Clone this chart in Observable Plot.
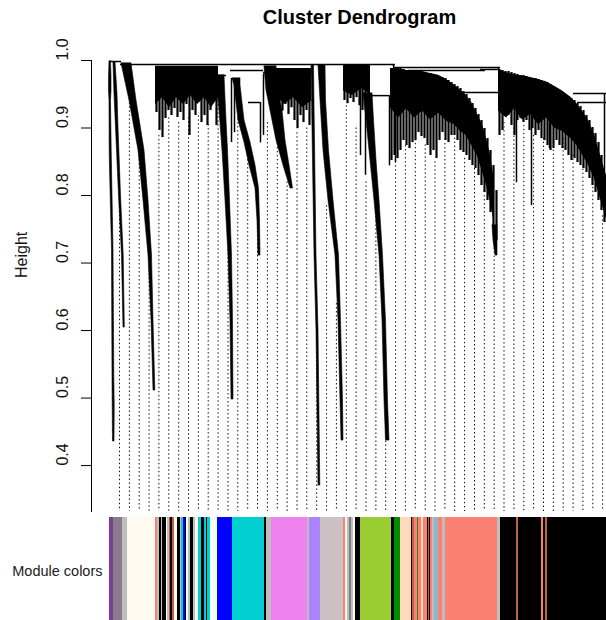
<!DOCTYPE html>
<html><head><meta charset="utf-8">
<script src="https://cdn.jsdelivr.net/npm/d3@7"></script>
<script src="https://cdn.jsdelivr.net/npm/@observablehq/plot@0.6"></script>
<style>
body{margin:0;background:#fff;}
#wrap{position:relative;width:606px;height:620px;overflow:hidden;background:#fff;}
#wrap svg{position:absolute;left:0;}
</style></head><body><div id="wrap"></div>
<script>
// ---------- axis ----------
const yTicks = [0.4, 0.5, 0.6, 0.7, 0.8, 0.9, 1.0];
const heightFloor = 0.332;          // lower limit of the Height axis
const leafSpan = [0, 498];          // leaf order (1 unit ~ a few genes)
const combStep = 3;

// ---------- dendrogram: merges [height, fromLeaf, toLeaf] ----------
const merges = [
  [0.9985, 1, 13], [0.9941, 12, 287], [0.9896, 285, 392], [0.9911, 47, 110],
  [0.9852, 122, 155], [0.9822, 155, 199], [0.9778, 107, 118], [0.9644, 172, 185],
  [0.9378, 140, 152], [0.948, 260, 281], [0.9852, 300, 377], [0.9526, 339, 390],
  [0.9867, 372, 390], [0.951, 465, 498], [0.9378, 469, 498]
];
// vertical connections [leaf, top, bottom]
const links = [
  [285, 0.9941, 0.9896], [390, 0.9896, 0.9867], [496, 0.951, 0.83],
  [281, 0.948, 0.844], [152, 0.9378, 0.878]
];
// isolated deep branches [leaf, top, bottom]
const spikes = [
  [123, 0.9733, 0.8785], [126, 0.97, 0.893], [155, 0.98, 0.889], [252, 0.99, 0.8593],
  [257, 0.99, 0.83], [287, 0.988, 0.849], [408, 0.9748, 0.819], [423, 0.9733, 0.785],
  [441, 0.965, 0.8696]
];

// ---------- cascading branches [height, leftLeaf, rightLeaf] ----------
const branchL1 = [[0.9985, 1, 2.5], [0.975, 0.5, 3], [0.955, 0.5, 3], [0.94, 1, 2.5], [0.865, 1.2, 3.2],
  [0.84, 1.5, 3.5], [0.72, 3.5, 5], [0.53, 4, 5.8], [0.49, 4.2, 6.2], [0.4356, 4.5, 6]];
const branchL2 = [[0.997, 5, 7], [0.95, 6, 9], [0.9, 7.5, 10], [0.8, 10.5, 12.5], [0.7111, 13.5, 15.2], [0.6044, 15, 16.3]];
const branchC1 = [[0.9956, 13, 23], [0.9407, 21, 28], [0.8667, 30, 36], [0.7926, 35, 40], [0.7111, 40, 43.5], [0.6148, 43, 45], [0.5111, 45, 46.8]];
const branchC3 = [[0.9778, 108, 116], [0.926, 111, 117.5], [0.8667, 114, 119.5], [0.7926, 117, 121.5], [0.7111, 120, 123.5], [0.6148, 122, 124.5], [0.4978, 123, 125]];
const branchC4 = [[0.9733, 124, 132], [0.963, 126, 132], [0.9111, 130, 136], [0.8785, 136, 142], [0.8444, 141, 147], [0.8104, 147, 150.5], [0.763, 149, 151.5], [0.7111, 150, 152]];
const branchC5 = [[0.9911, 156, 168], [0.9556, 158, 170], [0.9259, 162, 174], [0.8815, 168, 177], [0.8444, 175, 181], [0.8104, 182, 184.5]];
const branchL3 = [[0.9926, 203, 205.5], [0.7111, 206, 208], [0.60, 208, 210], [0.3704, 210, 211.8]];
const branchC6 = [[0.9926, 210, 217], [0.9407, 212, 217.5], [0.8667, 215, 220.5], [0.7926, 220, 225], [0.7111, 227, 230.5], [0.6148, 230, 232.5], [0.4963, 232, 234.5], [0.437, 233, 235]];
const branchC7a = [[0.951, 255, 264], [0.9111, 258, 265.5], [0.8519, 262, 268], [0.7926, 266, 271], [0.7111, 271, 274.5], [0.6148, 274, 277.5], [0.4963, 276, 279.5], [0.437, 277.5, 281]];
const branchC7tail = [[0.7556, 384, 389], [0.7333, 385, 389], [0.7111, 387, 389]];

// ---------- dense clusters: leaf heights every 3 leaf units ----------
const comb2Start = 47, comb2Top = 0.9911;
const comb2Bottom = [0.923, 0.8963, 0.8859, 0.9141, 0.9259, 0.9185, 0.9289, 0.9156, 0.923, 0.9111, 0.9348,
  0.8889, 0.9259, 0.9185, 0.9378, 0.9081, 0.9185, 0.9037, 0.9259, 0.9437, 0.9037];
const comb5Start = 167, comb5Top = 0.9881;
const comb5Bottom = [0.93, 0.94, 0.925, 0.935, 0.92, 0.93, 0.9111, 0.899, 0.9185, 0.9081, 0.9259, 0.9037];
const comb6Start = 235, comb6Top = 0.9926;
const comb6Bottom = [0.9407, 0.936, 0.9437, 0.9378, 0.945, 0.933, 0.9259, 0.9407, 0.9437];
const comb7Start = 282;
const comb7Top = [0.9881, 0.9881, 0.9881, 0.9881, 0.9867, 0.9852, 0.9852, 0.9837, 0.9837, 0.9822, 0.9822, 0.9822,
  0.9807, 0.9807, 0.9793, 0.9778, 0.9763, 0.9748, 0.9733, 0.9704, 0.9674, 0.9644, 0.9615, 0.9585, 0.954, 0.9496,
  0.9437, 0.9363, 0.9289, 0.92, 0.9111, 0.8993, 0.8844, 0.8667, 0.8444, 0.8074];
const comb7Bottom = [0.8519, 0.8593, 0.8548, 0.8667, 0.8815, 0.8741, 0.8696, 0.8785, 0.8815, 0.8933, 0.8874, 0.8844,
  0.8741, 0.8593, 0.8667, 0.8548, 0.8815, 0.8933, 0.8815, 0.8785, 0.8889, 0.8889, 0.8815, 0.8667, 0.8637, 0.8593,
  0.8519, 0.8444, 0.84, 0.8296, 0.8148, 0.8044, 0.7926, 0.7748, 0.7556, 0.7333];
const comb8Start = 390;
const comb8Top = [0.9867, 0.9852, 0.9837, 0.9837, 0.9822, 0.9807, 0.9793, 0.9778, 0.9778, 0.9763, 0.9748, 0.9733,
  0.9733, 0.9719, 0.9704, 0.969, 0.9674, 0.9644, 0.9615, 0.9585, 0.9556, 0.9526, 0.9496, 0.9467, 0.9437, 0.9407,
  0.9363, 0.9319, 0.9259, 0.9185, 0.9111, 0.9007, 0.8919, 0.8785, 0.8593, 0.8296];
const comb8Bottom = [0.8889, 0.8963, 0.923, 0.9185, 0.9037, 0.8889, 0.9111, 0.914, 0.9081, 0.9111, 0.8963, 0.8993,
  0.8889, 0.8963, 0.8844, 0.8815, 0.8741, 0.8667, 0.8696, 0.8815, 0.8741, 0.8696, 0.8667, 0.8593, 0.8519, 0.8548,
  0.8489, 0.8444, 0.84, 0.8341, 0.8252, 0.8148, 0.8044, 0.7926, 0.7778, 0.76];
// solid cores of the dense clusters [leaf, top, core bottom]
const core2 = [[47, 0.9911, 0.935], [54, 0.9911, 0.945], [61, 0.9911, 0.93], [68, 0.9911, 0.945], [75, 0.9911, 0.935],
  [82, 0.9911, 0.948], [89, 0.9911, 0.935], [96, 0.9911, 0.945], [103, 0.9911, 0.93], [110, 0.9911, 0.945]];
const core5 = [[167, 0.9881, 0.948], [176, 0.9881, 0.935], [185, 0.9881, 0.945], [194, 0.9881, 0.93], [203, 0.9881, 0.94]];
const core6 = [[235, 0.9926, 0.955], [244, 0.9926, 0.948], [253, 0.9926, 0.958], [262, 0.9926, 0.95]];
const core7 = [[282, 0.9881, 0.93], [290, 0.9881, 0.915], [298, 0.9852, 0.928], [306, 0.985, 0.915], [314, 0.9837, 0.925],
  [322, 0.9807, 0.912], [330, 0.978, 0.922], [338, 0.972, 0.91], [346, 0.963, 0.905], [352, 0.956, 0.895],
  [357, 0.9496, 0.89], [363, 0.938, 0.875], [369, 0.92, 0.858], [374, 0.905, 0.835], [378, 0.8844, 0.815],
  [382, 0.86, 0.79], [385, 0.83, 0.765]];
const core8 = [[390, 0.9867, 0.925], [398, 0.982, 0.915], [406, 0.979, 0.928], [414, 0.977, 0.912], [422, 0.9748, 0.92],
  [430, 0.972, 0.905], [438, 0.968, 0.915], [446, 0.962, 0.9], [454, 0.955, 0.895], [462, 0.946, 0.885],
  [468, 0.9363, 0.875], [474, 0.925, 0.86], [480, 0.9111, 0.845], [486, 0.89, 0.825], [492, 0.8593, 0.795],
  [498, 0.8296, 0.765]];

// ---------- guide lines (50 guides) ----------
const guideLeaves = [11, 20.9, 30.7, 40.6, 50.4, 60.3, 70.2, 80.0, 89.9, 99.7, 109.6, 119.5, 129.3, 139.2, 149.0,
  158.9, 168.8, 178.6, 188.5, 198.3, 208.2, 218.1, 227.9, 237.8, 247.6, 257.5, 267.4, 277.2, 287.1, 296.9, 306.8,
  316.7, 326.5, 336.4, 346.2, 356.1, 366.0, 375.8, 385.7, 395.5, 405.4, 415.3, 425.1, 435.0, 444.8, 454.7, 464.6,
  474.4, 484.3, 494.1];
const guideTops = [0.83, 0.943, 0.865, 0.69, 0.889, 0.915, 0.908, 0.915, 0.918, 0.905, 0.958, 0.72, 0.914, 0.865,
  0.80, 0.908, 0.889, 0.82, 0.893, 0.90, 0.62, 0.785, 0.64, 0.933, 0.90, 0.82, 0.78, 0.46, 0.85, 0.874, 0.889,
  0.875, 0.85, 0.877, 0.885, 0.855, 0.84, 0.80, 0.74, 0.908, 0.90, 0.904, 0.889, 0.885, 0.885, 0.884, 0.86, 0.845,
  0.83, 0.77];

// ---------- module colours [fromLeaf, toLeaf, module] ----------
const moduleRuns = [
  [1, 5, "darkmagenta"], [5, 14, "thistle4"], [14, 18.5, "grey"], [18.5, 47, "floralwhite"], [47, 49, "salmon"],
  [49, 51, "grey"], [51, 53, "black"], [53, 54, "grey"], [54, 57.5, "black"], [57.5, 59, "floralwhite"],
  [59, 60.5, "grey"], [60.5, 62, "sienna3"], [62, 64, "black"], [64, 66, "sienna3"], [66, 68.5, "floralwhite"],
  [68.5, 71.5, "black"], [71.5, 73, "grey"], [73, 74.5, "darkturquoise"], [74.5, 76.5, "blue"], [76.5, 78, "black"],
  [78, 79.5, "honeydew"], [79.5, 81.5, "grey"], [81.5, 84.5, "black"], [84.5, 86.5, "grey"], [86.5, 89.5, "honeydew"],
  [89.5, 93, "darkturquoise"], [93, 95.5, "black"], [95.5, 97.5, "darkturquoise"], [97.5, 99, "black"],
  [99, 102, "darkturquoise"], [102, 109, "honeydew"], [109, 123.5, "blue"], [123.5, 155.5, "darkturquoise"],
  [155.5, 157.5, "black"], [157.5, 162.5, "grey"], [162.5, 199, "violet"], [199, 201, "grey"],
  [201, 212, "mediumpurple1"], [212, 235, "lavenderblush3"], [235, 236.5, "salmon"], [236.5, 238.5, "floralwhite"],
  [238.5, 240.5, "grey"], [240.5, 242.5, "grey50"], [242.5, 244.5, "grey"], [244.5, 247, "floralwhite"],
  [247, 251.5, "black"], [251.5, 282.5, "yellowgreen"], [282.5, 285.5, "black"], [285.5, 292, "green4"],
  [292, 302.5, "peachpuff"], [302.5, 303.5, "black"], [303.5, 306, "sienna3"], [306, 308.5, "salmon"],
  [308.5, 310, "forestgreen"], [310, 313, "salmon"], [313, 315, "peachpuff"], [315, 318.5, "salmon"],
  [318.5, 319.5, "black"], [319.5, 321, "sienna3"], [321, 322, "black"], [322, 324, "salmon"], [324, 325.5, "grey"],
  [325.5, 329.5, "skyblue3"], [329.5, 333.5, "salmon"], [333.5, 336.5, "grey"], [336.5, 388.5, "salmon"],
  [388.5, 391.5, "grey"], [391.5, 408, "black"], [408, 410, "sienna3"], [410, 433, "black"], [433, 435, "salmon"],
  [435, 437, "black"], [437, 438.5, "sienna3"], [438.5, 498, "black"]
];
const moduleNames = ["darkmagenta", "thistle4", "grey", "floralwhite", "salmon", "black", "sienna3", "darkturquoise",
  "blue", "honeydew", "violet", "mediumpurple1", "lavenderblush3", "grey50", "yellowgreen", "green4", "peachpuff",
  "forestgreen", "skyblue3"];
const moduleHex = ["#7b3f92", "#8b7b8b", "#bebebe", "#fffaf0", "#fa8072", "#000000", "#c4603e", "#00ced1",
  "#0000ff", "#f0fff0", "#ee82ee", "#ab82ff", "#cdc1c5", "#7f7f7f", "#9acd32", "#008b00", "#ffdab9",
  "#228b22", "#8db6cd"];

// ---------- build ----------
function combRects(start, top, bottoms) {
  return bottoms.map((b, i) => ({
    x1: start + i * combStep, x2: start + (i + 1) * combStep,
    top: Array.isArray(top) ? top[i] : top, bottom: b
  }));
}
const rects = [
  ...combRects(comb2Start, comb2Top, comb2Bottom),
  ...combRects(comb5Start, comb5Top, comb5Bottom),
  ...combRects(comb6Start, comb6Top, comb6Bottom),
  ...combRects(comb7Start, comb7Top, comb7Bottom),
  ...combRects(comb8Start, comb8Top, comb8Bottom)
];
const cores = [core2, core5, core6, core7, core8];
const branches = [branchL1, branchL2, branchC1, branchC3, branchC4, branchC5, branchL3, branchC6, branchC7a, branchC7tail];
const guides = guideLeaves.map((x, i) => ({x, top: guideTops[i]}));
const font = '"Liberation Sans", Arial, Helvetica, sans-serif';

const dendro = Plot.plot({
  width: 606, height: 515,
  marginTop: 60, marginBottom: 4, marginLeft: 91, marginRight: 0,
  style: {fontFamily: font, background: "transparent", overflow: "visible"},
  x: {domain: leafSpan, range: [108, 606], axis: null},
  y: {domain: [heightFloor, 1.0]},
  marks: [
    Plot.ruleX(guides, {x: "x", y1: "top", y2: heightFloor, stroke: "#000", strokeWidth: 1, strokeDasharray: "1.4,2.6"}),
    Plot.rect(rects, {x1: "x1", x2: "x2", y1: "bottom", y2: "top", fill: "#000", insetLeft: 0.4, insetRight: 0.4}),
    ...cores.map(c => Plot.areaY(c, {x: d => d[0], y1: d => d[1], y2: d => d[2], fill: "#000"})),
    ...branches.map(b => Plot.areaX(b, {y: d => d[0], x1: d => d[1], x2: d => d[2], fill: "#000", stroke: "#000", strokeWidth: 0.6})),
    Plot.ruleX(links.concat(spikes), {x: d => d[0], y1: d => d[1], y2: d => d[2], stroke: "#000", strokeWidth: 1.5}),
    Plot.ruleY(merges, {y: d => d[0], x1: d => d[1], x2: d => d[2], stroke: "#000", strokeWidth: 1.5}),
    Plot.axisY({ticks: yTicks, tickSize: 10, tickFormat: () => "", label: null}),
    Plot.frame({anchor: "left"}),
    Plot.text(yTicks, {y: d => d, text: d => d.toFixed(1), frameAnchor: "left", dx: -28.5, rotate: -90, fontSize: 16, fill: "#111"}),
    Plot.text(["Height"], {text: d => d, frameAnchor: "left", dx: -70, dy: -8, rotate: -90, fontSize: 16, fill: "#111"}),
    Plot.text(["Cluster Dendrogram"], {text: d => d, frameAnchor: "top", dx: 10.5, dy: -37, lineAnchor: "bottom", fontSize: 20, fontWeight: "bold", fill: "#000"})
  ]
});
dendro.style.top = "0px";

const bar = Plot.plot({
  width: 606, height: 103,
  marginTop: 0, marginBottom: 0, marginLeft: 108, marginRight: 0,
  style: {fontFamily: font, background: "transparent", overflow: "visible"},
  x: {domain: leafSpan, range: [108, 606], axis: null},
  color: {type: "ordinal", domain: moduleNames, range: moduleHex},
  marks: [
    Plot.rect(moduleRuns, {x1: d => d[0], x2: d => d[1], fill: d => d[2], shapeRendering: "crispEdges"}),
    Plot.text(["Module colors"], {text: d => d, frameAnchor: "left", dx: -6, dy: 2, textAnchor: "end", fontSize: 14.5, fill: "#222"})
  ]
});
bar.style.top = "517px";

const wrap = document.getElementById("wrap");
wrap.appendChild(dendro);
wrap.appendChild(bar);
</script></body></html>
